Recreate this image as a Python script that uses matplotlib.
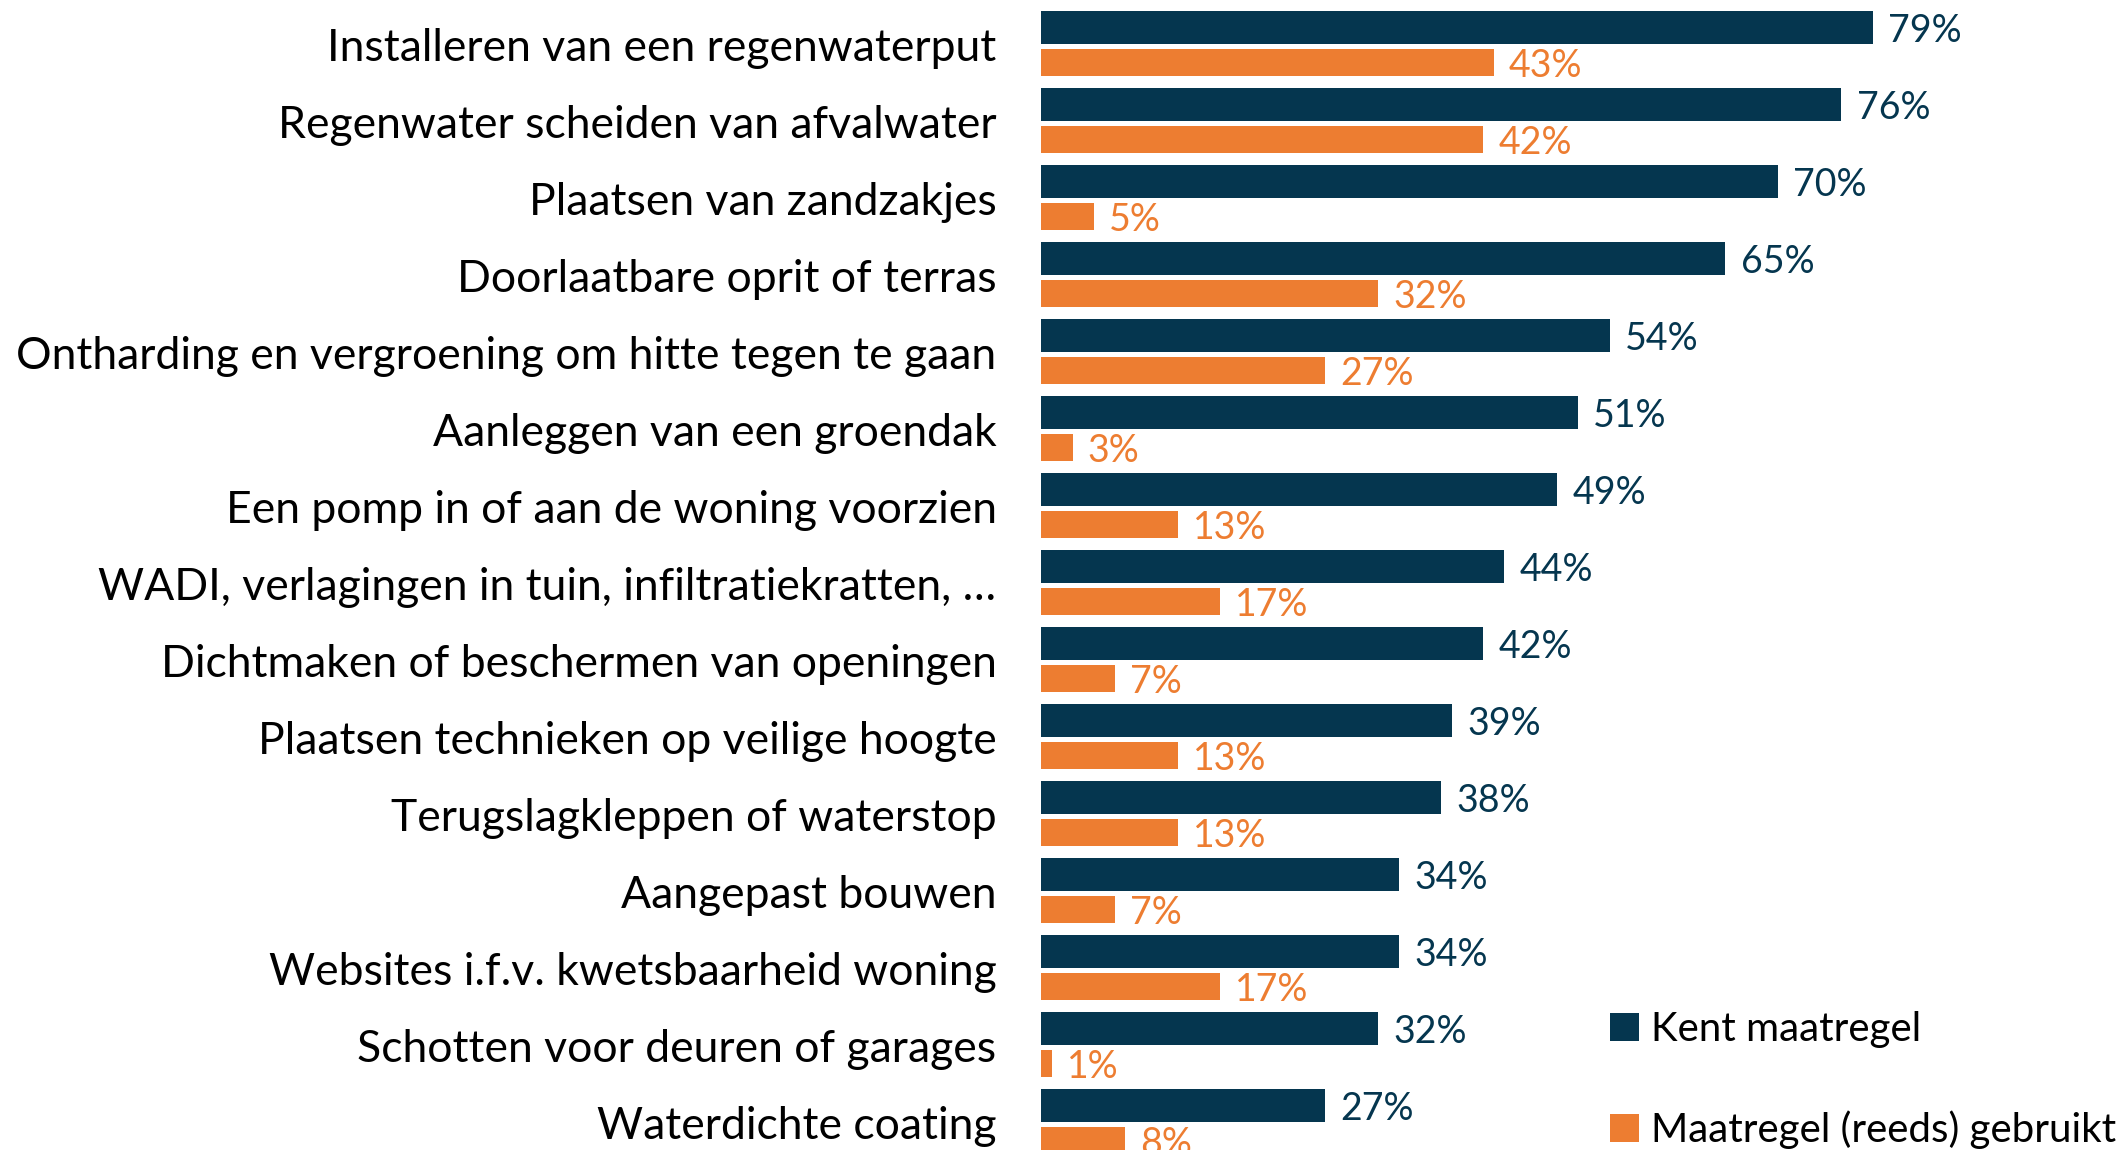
"""
Maatregelen tegen wateroverlast: gekend vs. gebruikt
"""

import numpy as np
import matplotlib
matplotlib.use("Agg")
import matplotlib.pyplot as plt

plt.rcParams['font.family'] = ['Lato', 'DejaVu Sans']

#%%
maatregelen = ["Installeren van een regenwaterput",
               "Regenwater scheiden van afvalwater",
               "Plaatsen van zandzakjes",
               "Doorlaatbare oprit of terras",
               "Ontharding en vergroening om hitte tegen te gaan",
               "Aanleggen van een groendak",
               "Een pomp in of aan de woning voorzien",
               "WADI, verlagingen in tuin, infiltratiekratten, …",
               "Dichtmaken of beschermen van openingen",
               "Plaatsen technieken op veilige hoogte",
               "Terugslagkleppen of waterstop",
               "Aangepast bouwen",
               "Websites i.f.v. kwetsbaarheid woning",
               "Schotten voor deuren of garages",
               "Waterdichte coating"]
kent = [79, 76, 70, 65, 54, 51, 49, 44, 42, 39, 38, 34, 34, 32, 27]
gebruikt = [43, 42, 5, 32, 27, 3, 13, 17, 7, 13, 13, 7, 17, 1, 8]

navy = "#05364F"
orange = "#ED7D31"

#%%
fig = plt.figure(figsize=(21.2, 11.5), dpi=100)
ax = fig.add_axes([1041/2120, 0, 1079/2120, 1])

y = np.arange(len(maatregelen))
b1 = ax.barh(y - 0.227, kent, height=0.43, color=navy, label="Kent maatregel")
b2 = ax.barh(y + 0.227, gebruikt, height=0.36, color=orange, label="Maatregel (reeds) gebruikt")

t1 = ax.bar_label(b1, labels=[f"{v}%" for v in kent], padding=11, fontsize=27, color=navy)
t2 = ax.bar_label(b2, labels=[f"{v}%" for v in gebruikt], padding=11, fontsize=27, color=orange)
for t in t1 + t2:
    t.set_va('center_baseline')

ax.set_xlim(0, 1079/10.53)
ax.set_ylim(-0.584 + 1150/77, -0.584)
ax.set_yticks(y, maatregelen, fontsize=32)
ax.tick_params(axis='y', length=0, pad=32)
ax.set_xticks([])
for s in ax.spines.values():
    s.set_visible(False)

ax.legend(loc='center left', bbox_to_anchor=(1610/2120, (1150 - 1080)/1150),
          bbox_transform=fig.transFigure, frameon=False, fontsize=29,
          handlelength=0.72, handleheight=0.72, handletextpad=0.3,
          labelspacing=1.55, borderpad=0, borderaxespad=0)

plt.savefig("out.png", dpi=100)
